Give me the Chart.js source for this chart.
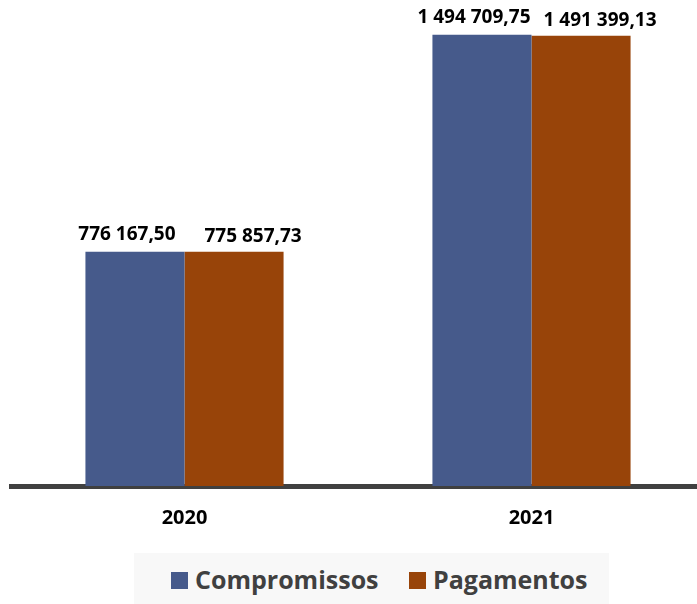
<!DOCTYPE html>
<html>
<head>
<meta charset="utf-8">
<script src="https://cdn.jsdelivr.net/npm/chart.js@4/dist/chart.umd.min.js"></script>
<style>
  html, body { margin: 0; padding: 0; background: #fff; overflow: hidden; width: 697px; height: 604px; }
  #wrap { position: relative; width: 705px; height: 604px; }
  #legend {
    position: absolute; left: 134px; top: 553px; width: 475px; height: 51px;
    background: #f8f8f8; font-family: 'Open Sans', sans-serif; font-weight: 700;
    font-size: 25px; color: #404040;
  }
  .item { position: absolute; top: 0; height: 51px; display: flex; align-items: center; }
  .sq { width: 17px; height: 17px; margin-right: 7px; margin-top: 4px; }
</style>
</head>
<body>
<div id="wrap">
  <canvas id="chart" width="705" height="604"></canvas>
  <div id="legend"></div>
</div>
<script>
// Dados
const years = ['2020', '2021'];
const compromissos = [776167.50, 1494709.75];
const pagamentos = [775857.73, 1491399.13];

const seriesNames = ['Compromissos', 'Pagamentos'];
const seriesColors = ['#465a8b', '#984409'];

// 1 494 709,75
function fmt(v) {
    const parts = v.toFixed(2).split('.');
    return parts[0].replace(/\B(?=(\d{3})+(?!\d))/g, ' ') + ',' + parts[1];
}

// rotulos em cima das barras
const shift = [{ dx: -8, lift: 17 }, { dx: 19, lift: 15 }];
const barLabels = {
    id: 'barLabels',
    afterDatasetsDraw(chart) {
        const ctx = chart.ctx;
        ctx.save();
        ctx.font = "700 19px 'Open Sans'";
        ctx.fillStyle = '#000';
        ctx.textAlign = 'center';
        ctx.textBaseline = 'middle';
        chart.data.datasets.forEach((ds, i) => {
            chart.getDatasetMeta(i).data.forEach((bar, j) => {
                ctx.fillText(fmt(ds.data[j]), bar.x + shift[i].dx, bar.y - shift[i].lift);
            });
        });
        ctx.restore();
    }
};

new Chart(document.getElementById('chart'), {
    type: 'bar',
    data: {
        labels: years,
        datasets: [
            { label: seriesNames[0], data: compromissos, backgroundColor: seriesColors[0] },
            { label: seriesNames[1], data: pagamentos, backgroundColor: seriesColors[1] }
        ]
    },
    options: {
        responsive: false,
        animation: false,
        layout: { padding: { left: 11, right: 0, top: 3, bottom: 62 } },
        datasets: { bar: { barPercentage: 1, categoryPercentage: 0.571, borderWidth: 0 } },
        plugins: { legend: { display: false }, tooltip: { enabled: false } },
        scales: {
            x: {
                z: 1,
                grid: { display: false },
                border: { display: true, color: '#404040', width: 5 },
                ticks: { color: '#000', padding: 12, font: { family: 'Open Sans', weight: '700', size: 20 } }
            },
            y: { display: false, min: 0, max: 1600000 }
        }
    },
    plugins: [barLabels]
});

// legenda
const legendX = [37, 275];
document.getElementById('legend').innerHTML = seriesNames.map((n, i) => `
  <div class="item" style="left:${legendX[i]}px">
    <span class="sq" style="background:${seriesColors[i]}"></span><span>${n}</span>
  </div>`).join('');
</script>
</body>
</html>
